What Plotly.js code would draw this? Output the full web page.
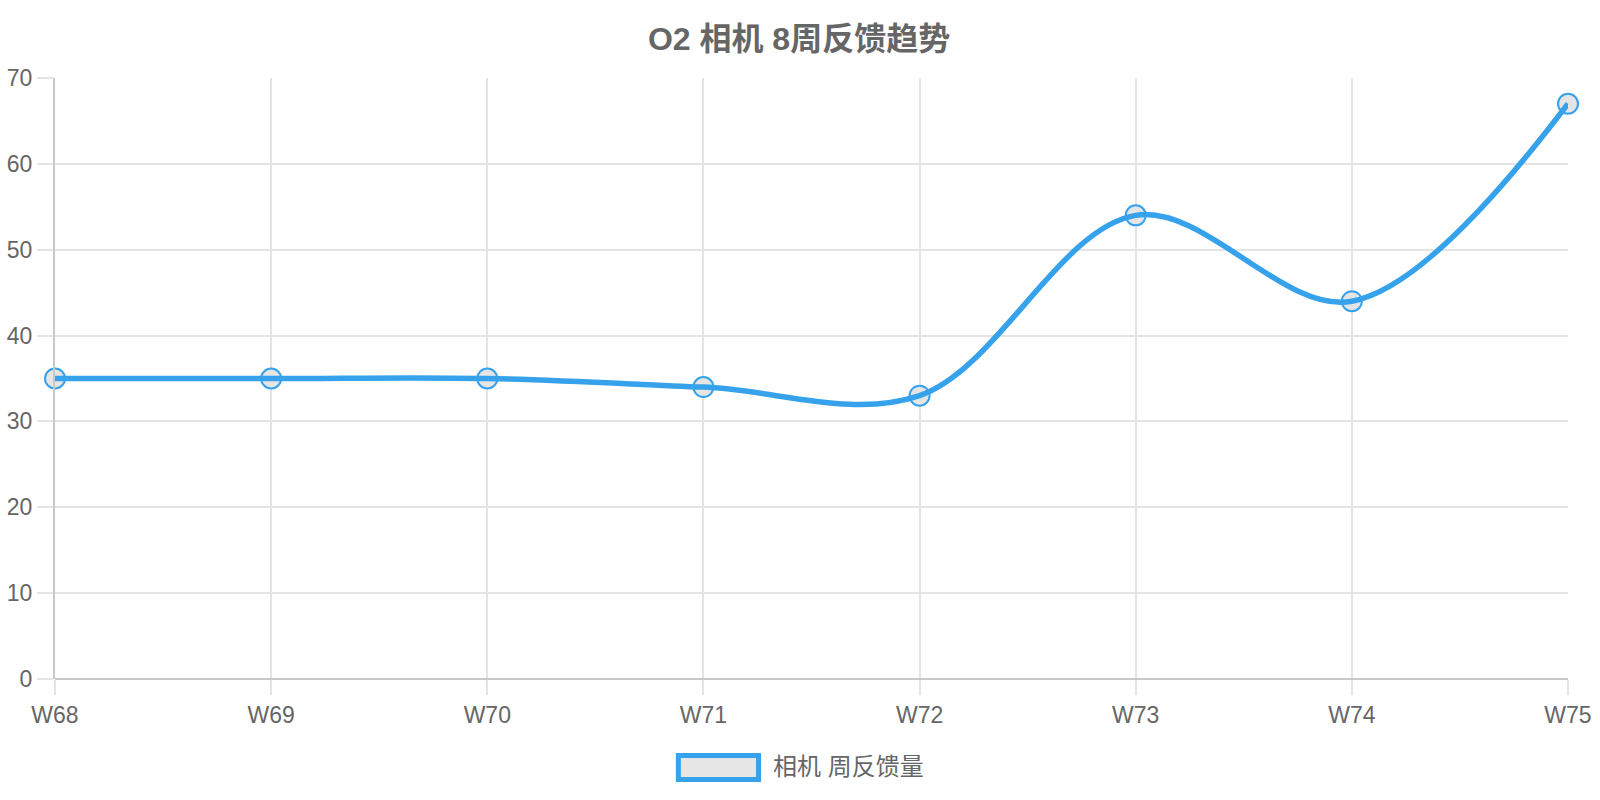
<!DOCTYPE html>
<html>
<head>
<meta charset="utf-8">
<script src="https://cdn.plot.ly/plotly-3.0.1.min.js"></script>
<style>
  html, body { margin: 0; padding: 0; background: #fff; }
  #chart { width: 1600px; height: 800px; }
</style>
</head>
<body>
<div id="chart"></div>
<script>
// data
const weeks = ['W68', 'W69', 'W70', 'W71', 'W72', 'W73', 'W74', 'W75'];
const feedback = [35, 35, 35, 34, 33, 54, 44, 67];
const seriesName = '相机 周反馈量';
const chartTitle = 'O2 相机 8周反馈趋势';

const fontFamily = '"Liberation Sans", Arial, "Noto Sans CJK SC", sans-serif';
const blue = '#36a2eb';
const gridColor = '#e4e4e4';

// markers first, then the line on top (like the reference)
let pointTrace = {
    type: 'scatter',
    mode: 'markers',
    x: weeks,
    y: feedback,
    name: seriesName,
    cliponaxis: false,
    marker: {
        size: 20,
        color: 'rgba(228,228,228,0.95)',
        line: { color: blue, width: 2 }
    },
    hoverinfo: 'x+y'
};

let lineTrace = {
    type: 'scatter',
    mode: 'lines',
    x: weeks,
    y: feedback,
    name: seriesName,
    cliponaxis: false,
    line: { color: blue, width: 5.5, shape: 'spline', smoothing: 1 },
    hoverinfo: 'skip'
};

let layout = {
    width: 1600,
    height: 800,
    margin: { t: 78, r: 32, b: 121, l: 55 },
    paper_bgcolor: '#fff',
    plot_bgcolor: '#fff',
    showlegend: false,
    font: { family: fontFamily, color: '#666', size: 23 },
    title: {
        text: '<b>' + chartTitle + '</b>',
        x: 0.4994, xanchor: 'center',
        y: 0.952, yanchor: 'middle',
        font: { size: 32, color: '#666', family: fontFamily }
    },
    xaxis: {
        type: 'category',
        range: [0, weeks.length - 1],
        showgrid: true,
        gridcolor: gridColor,
        gridwidth: 1.5,
        ticks: 'outside',
        ticklen: 15,
        tickwidth: 1.5,
        tickcolor: gridColor,
        showline: false,
        zeroline: false,
        tickfont: { size: 23, color: '#666' },
        fixedrange: true
    },
    yaxis: {
        range: [0, 70],
        dtick: 10,
        showgrid: true,
        gridcolor: gridColor,
        gridwidth: 1.5,
        ticks: 'outside',
        ticklen: 16,
        tickwidth: 1.5,
        tickcolor: gridColor,
        showline: true,
        linecolor: '#c8c8c8',
        linewidth: 2,
        zeroline: true,
        zerolinecolor: '#c8c8c8',
        zerolinewidth: 2,
        tickfont: { size: 23, color: '#666' },
        fixedrange: true
    },
    // legend drawn as a box + label, like the reference
    shapes: [{
        type: 'rect',
        xref: 'paper', yref: 'paper',
        x0: 0.4120, x1: 0.4650,
        y0: -0.1672, y1: -0.1272,
        fillcolor: '#e6e6e6',
        line: { color: blue, width: 5 }
    }],
    annotations: [{
        xref: 'paper', yref: 'paper',
        x: 0.4732, y: -0.1464,
        xanchor: 'left', yanchor: 'middle',
        text: seriesName,
        showarrow: false,
        font: { size: 24, color: '#666', family: fontFamily }
    }]
};

Plotly.newPlot('chart', [pointTrace, lineTrace], layout, { displayModeBar: false, responsive: false });
</script>
</body>
</html>
